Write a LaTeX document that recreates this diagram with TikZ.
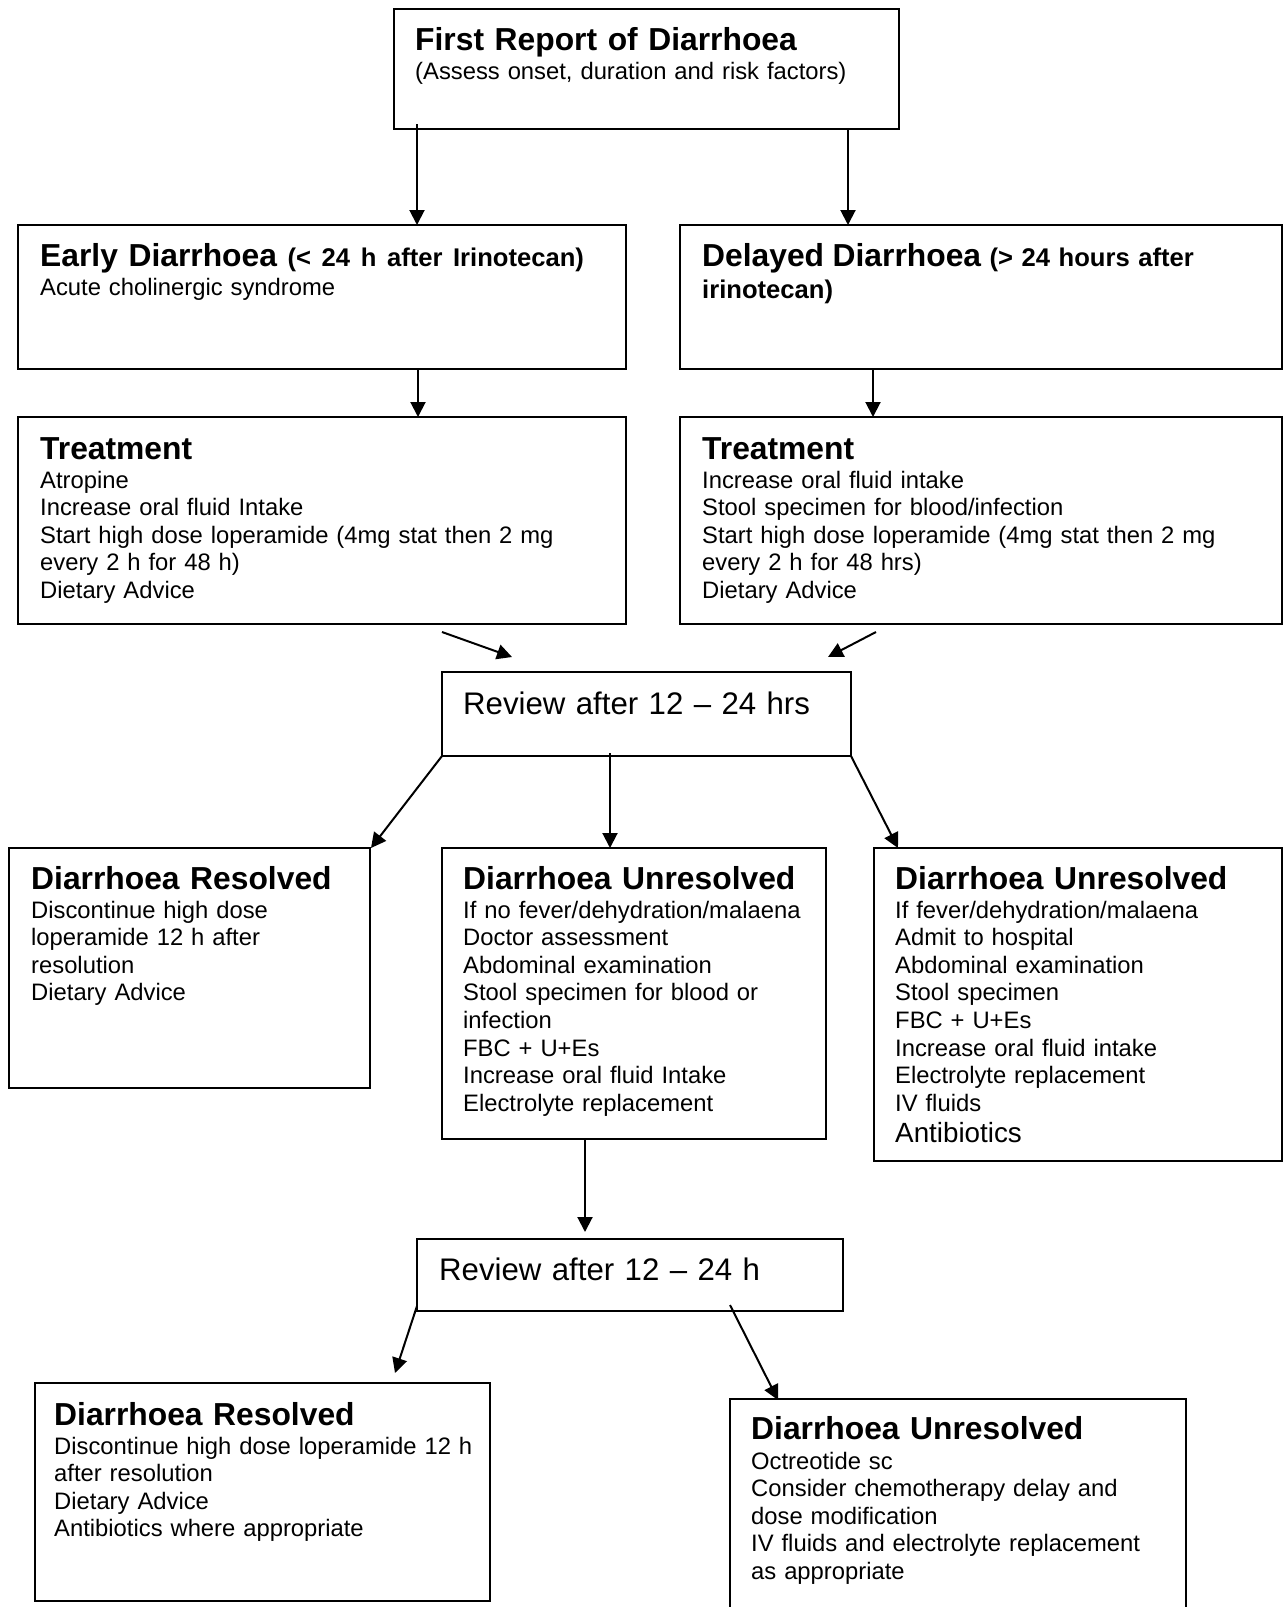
\documentclass[tikz,border=0pt]{standalone}
\usepackage{fontspec}
\setmainfont{Liberation Sans}
\usetikzlibrary{arrows.meta}
\newcommand\HeadFont{\fontsize{31.8}{36}\selectfont\bfseries}
\newcommand\BodyFont{\fontsize{23.8}{27.6}\selectfont}
\newcommand\SubFont{\fontsize{25.6}{32}\selectfont\bfseries}
\newcommand\MidFont{\fontsize{27.8}{32}\selectfont}
\tikzset{
  box/.style={draw=black, line width=2pt, rectangle, inner sep=0pt, outer sep=0pt, anchor=north west},
  head/.style={anchor=base west, inner sep=0pt, font=\HeadFont, text width=620pt, align=left},
  body/.style={anchor=base west, inner sep=0pt, font=\BodyFont, text width=620pt, align=left},
  arr/.style={line width=2pt, -{Triangle[length=15pt,width=15pt]}},
}
\begin{document}
\begin{tikzpicture}[x=1pt,y=-1pt]
\useasboundingbox (0,0) rectangle (1288,1607);
\fill[white] (0,0) rectangle (1288,1607);
\clip (0,0) rectangle (1288,1607);

% boxes
\node[box, minimum width=505pt, minimum height=120pt] (top) at (394,9) {};
\node[box, minimum width=608pt, minimum height=144pt] (early) at (18,225) {};
\node[box, minimum width=602pt, minimum height=144pt] (delayed) at (680,225) {};
\node[box, minimum width=608pt, minimum height=207pt] (treatL) at (18,417) {};
\node[box, minimum width=602pt, minimum height=207pt] (treatR) at (680,417) {};
\node[box, minimum width=409pt, minimum height=84pt] (review) at (442,672) {};
\node[box, minimum width=361pt, minimum height=240pt] (resolved) at (9,848) {};
\node[box, minimum width=384pt, minimum height=291pt] (unresM) at (442,848) {};
\node[box, minimum width=408pt, minimum height=313pt] (unresR) at (874,848) {};
\node[box, minimum width=426pt, minimum height=72pt] (review2) at (417,1239) {};
\node[box, minimum width=455pt, minimum height=218pt] (resolved2) at (35,1383) {};
\node[box, minimum width=456pt, minimum height=230pt] (unres2) at (730,1399) {};

% texts
\node[head] (topH) at (415,50) {First Report of Diarrhoea};
\node[body] (topB) at (415,79) {(Assess onset, duration and risk factors)};

\node[head] (earlyH) at (40,266) {Early Diarrhoea {\SubFont (< 24 h after Irinotecan)}};
\node[body] (earlyB) at (40,295) {Acute cholinergic syndrome};

\node[body, font=\SubFont] (delayedH) at (702,266) {{\HeadFont Delayed Diarrhoea} (> 24 hours after\\irinotecan)};

\node[head] (treatLH) at (40,459) {Treatment};
\node[body] (treatLB) at (40,488) {Atropine\\Increase oral fluid Intake\\Start high dose loperamide (4mg stat then 2 mg\\every 2 h for 48 h)\\Dietary Advice};

\node[head] (treatRH) at (702,459) {Treatment};
\node[body] (treatRB) at (702,488) {Increase oral fluid intake\\Stool specimen for blood/infection\\Start high dose loperamide (4mg stat then 2 mg\\every 2 h for 48 hrs)\\Dietary Advice};

\node[body, font=\fontsize{31.2}{36}\selectfont] (reviewT) at (463,714) {Review after 12 – 24 hrs};

\node[head] (resolvedH) at (31,889) {Diarrhoea Resolved};
\node[body] (resolvedB) at (31,918) {Discontinue high dose\\loperamide 12 h after\\resolution\\Dietary Advice};

\node[head] (unresMH) at (463,889) {Diarrhoea Unresolved};
\node[body] (unresMB) at (463,918) {If no fever/dehydration/malaena\\Doctor assessment\\Abdominal examination\\Stool specimen for blood or\\infection\\FBC + U+Es\\Increase oral fluid Intake\\Electrolyte replacement};

\node[head] (unresRH) at (895,889) {Diarrhoea Unresolved};
\node[body] (unresRB) at (895,918) {If fever/dehydration/malaena\\Admit to hospital\\Abdominal examination\\Stool specimen\\FBC + U+Es\\Increase oral fluid intake\\Electrolyte replacement\\IV fluids};
\node[body, font=\MidFont] (unresRA) at (895,1142) {Antibiotics};

\node[body, font=\fontsize{31.2}{36}\selectfont] (review2T) at (439,1280) {Review after 12 – 24 h};

\node[head] (resolved2H) at (54,1425) {Diarrhoea Resolved};
\node[body] (resolved2B) at (54,1454) {Discontinue high dose loperamide 12 h\\after resolution\\Dietary Advice\\Antibiotics where appropriate};

\node[head] (unres2H) at (751,1439) {Diarrhoea Unresolved};
\node[body] (unres2B) at (751,1469) {Octreotide sc\\Consider chemotherapy delay and\\dose modification\\IV fluids and electrolyte replacement\\as appropriate};

% connectors
\draw[arr] ([shift={(23,-5)}]top.south west) -- ([shift={(23,0)}]early.north west -| top.south west);
\draw[arr] ([shift={(-51,0)}]top.south east) -- ([shift={(168,0)}]delayed.north west);
\draw[arr] ([shift={(400,0)}]early.south west) -- ([shift={(400,0)}]treatL.north west);
\draw[arr] ([shift={(193,0)}]delayed.south west) -- ([shift={(193,0)}]treatR.north west);
\draw[arr] ([shift={(-184,8)}]treatL.south east) -- ([shift={(70,-15)}]review.north west);
\draw[arr] ([shift={(196,8)}]treatR.south west) -- ([shift={(-23,-15)}]review.north east);
\draw[arr] (review.south west) -- ([shift={(1,0)}]resolved.north east);
\draw[arr] ([shift={(168,-3)}]review.south west) -- ([shift={(168,0)}]unresM.north west);
\draw[arr] (review.south east) -- ([shift={(24,0)}]unresR.north west);
\draw[arr] ([shift={(143,0)}]unresM.south west) -- ([shift={(168,-7)}]review2.north west);
\draw[arr] ([shift={(0,-5)}]review2.south west) -- ([shift={(-95,-10)}]resolved2.north east);
\draw[arr] ([shift={(313,-6)}]review2.south west) -- ([shift={(48,1)}]unres2.north west);
\end{tikzpicture}
\end{document}
